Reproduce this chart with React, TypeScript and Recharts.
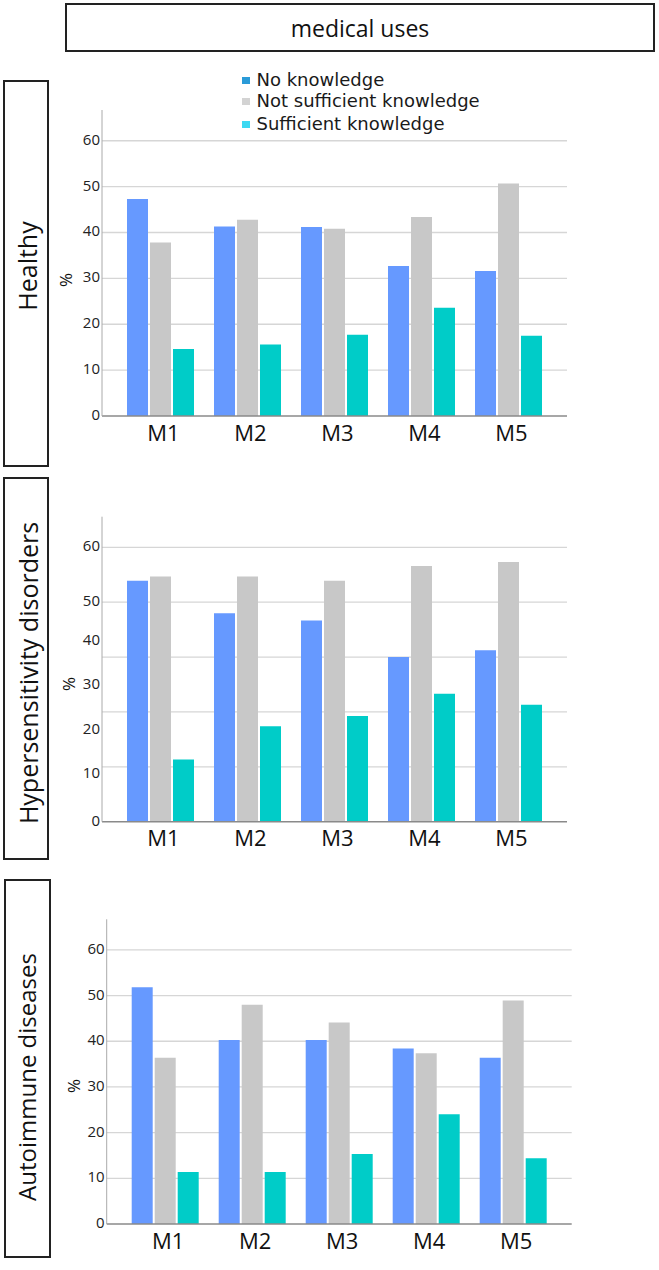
import React from 'react';
import { BarChart, Bar, XAxis, YAxis, CartesianGrid, Legend } from 'recharts';

const FONT = '"Open Sans", "Noto Sans", sans-serif';
const LEGEND_FONT = '"DejaVu Sans", sans-serif';

// ---------- data ----------
const categories = ['M1', 'M2', 'M3', 'M4', 'M5'];
const seriesNames = ['No knowledge', 'Not sufficient knowledge', 'Sufficient knowledge'];
const barColors = ['#6699FF', '#C8C8C8', '#00CCC8'];
const legendColors = ['#2A9BD8', '#D3D3D3', '#3DD9F2'];

const healthyNo = [47.3, 41.3, 41.2, 32.7, 31.6];
const healthyNotSuff = [37.8, 42.8, 40.8, 43.4, 50.7];
const healthySuff = [14.6, 15.6, 17.7, 23.6, 17.5];

const hyperNo = [52.7, 45.6, 44.0, 36.0, 37.5];
const hyperNotSuff = [53.6, 53.6, 52.7, 55.9, 56.8];
const hyperSuff = [13.6, 20.9, 23.1, 28.0, 25.6];

const autoNo = [51.8, 40.3, 40.3, 38.4, 36.4];
const autoNotSuff = [36.4, 48.0, 44.1, 37.4, 48.9];
const autoSuff = [11.4, 11.4, 15.3, 24.0, 14.4];

const yMax = 66.7;
const tickLabels = ['0', '10', '20', '30', '40', '50', '60'];
const regularTickValues = [0, 10, 20, 30, 40, 50, 60];
const regularGridValues = [10, 20, 30, 40, 50, 60];
const hyperTickValues = [0, 10.5, 20, 30, 39.5, 48, 60];
const hyperGridValues = [12, 24, 36, 48, 60];

const build = (no: number[], ns: number[], s: number[]) =>
  categories.map((c, i) => ({ name: c, no: no[i], notSuff: ns[i], suff: s[i] }));

const healthyData = build(healthyNo, healthyNotSuff, healthySuff);
const hyperData = build(hyperNo, hyperNotSuff, hyperSuff);
const autoData = build(autoNo, autoNotSuff, autoSuff);

// ---------- helpers ----------
const makeYTick = (values: number[]) => (props: any) => {
  const { x, y, payload } = props;
  const idx = values.indexOf(payload.value);
  const text = idx >= 0 ? tickLabels[idx] : String(payload.value);
  return (
    <text x={x} y={y - 2} textAnchor="end" dominantBaseline="central" fontSize={15} fill="#222" fontFamily={FONT}>
      {text}
    </text>
  );
};

const LegendBox = () => {
  const rowTops = [0, 21, 44];
  return (
    <div style={{ position: 'relative', width: 260, height: 66, fontFamily: LEGEND_FONT }}>
      {seriesNames.map((n, i) => (
        <div
          key={n}
          style={{ position: 'absolute', left: 0, top: rowTops[i], width: 250, height: 20, overflow: 'visible' }}
        >
          <div style={{ position: 'absolute', left: 0, top: 7, width: 8, height: 7, background: legendColors[i] }} />
          <div
            style={{
              position: 'absolute',
              left: 15,
              top: 0,
              height: 20,
              fontSize: 18,
              lineHeight: '20px',
              color: '#1a1a1a',
              whiteSpace: 'nowrap',
            }}
          >
            {n}
          </div>
        </div>
      ))}
    </div>
  );
};

const VLabel = ({ cx, cy, text, size }: { cx: number; cy: number; text: string; size: number }) => (
  <div
    style={{
      position: 'absolute',
      left: cx,
      top: cy,
      transform: 'translate(-50%,-50%) rotate(-90deg)',
      whiteSpace: 'nowrap',
      fontSize: size,
      fontFamily: FONT,
      color: '#111',
      lineHeight: 1,
    }}
  >
    {text}
  </div>
);

const Box = ({ left, top, width, height }: { left: number; top: number; width: number; height: number }) => (
  <div style={{ position: 'absolute', left, top, width, height, border: '2px solid #222', boxSizing: 'border-box' }} />
);

type PanelProps = {
  top: number;
  height: number;
  margin: { top: number; right: number; bottom: number; left: number };
  data: any[];
  tickValues: number[];
  gridValues: number[];
  legend?: boolean;
};

const Panel = ({ top, height, margin, data, tickValues, gridValues, legend }: PanelProps) => (
  <div style={{ position: 'absolute', left: 0, top }}>
    <BarChart width={659} height={height} data={data} margin={margin} barSize={21} barGap={2}>
      <CartesianGrid vertical={false} horizontalValues={gridValues} stroke="#D6D6D6" strokeWidth={1.3} />
      <XAxis
        dataKey="name"
        height={30}
        padding={{ left: 15, right: 15 }}
        axisLine={{ stroke: '#8A8A8A', strokeWidth: 1.5 }}
        tickLine={false}
        tickSize={0}
        tickMargin={9}
        tick={{ fontSize: 22, fill: '#111', fontFamily: FONT, dx: 3 }}
        interval={0}
      />
      <YAxis
        width={40}
        domain={[0, yMax]}
        ticks={tickValues}
        interval={0}
        axisLine={{ stroke: '#AAAAAA', strokeWidth: 1 }}
        tickLine={false}
        tickSize={0}
        tickMargin={2}
        tick={makeYTick(tickValues)}
      />
      {legend && (
        <Legend
          layout="vertical"
          align="center"
          verticalAlign="middle"
          wrapperStyle={{ position: 'absolute', top: 69.6, left: 241.5, width: 260, height: 66 }}
          content={() => <LegendBox />}
        />
      )}
      <Bar dataKey="no" name={seriesNames[0]} fill={barColors[0]} isAnimationActive={false} />
      <Bar dataKey="notSuff" name={seriesNames[1]} fill={barColors[1]} isAnimationActive={false} />
      <Bar dataKey="suff" name={seriesNames[2]} fill={barColors[2]} isAnimationActive={false} />
    </BarChart>
  </div>
);

export default function App() {
  return (
    <div style={{ position: 'absolute', left: 0, top: 0, width: 659, height: 1270, background: '#fff', overflow: 'hidden' }}>
      {/* title */}
      <Box left={65} top={3} width={590} height={49} />
      <div
        style={{
          position: 'absolute',
          left: 360,
          top: 28,
          transform: 'translate(-50%,-50%)',
          fontSize: 23,
          fontFamily: FONT,
          color: '#111',
          whiteSpace: 'nowrap',
        }}
      >
        medical uses
      </div>

      <Panel
        top={0}
        height={460}
        margin={{ top: 110, right: 92, bottom: 14, left: 62 }}
        data={healthyData}
        tickValues={regularTickValues}
        gridValues={regularGridValues}
        legend
      />
      <Panel
        top={470}
        height={400}
        margin={{ top: 46.7, right: 92, bottom: 18.3, left: 62 }}
        data={hyperData}
        tickValues={hyperTickValues}
        gridValues={hyperGridValues}
      />
      <Panel
        top={870}
        height={400}
        margin={{ top: 49.3, right: 87.3, bottom: 16, left: 66.7 }}
        data={autoData}
        tickValues={regularTickValues}
        gridValues={regularGridValues}
      />

      {/* side boxes */}
      <Box left={3} top={80} width={46} height={387} />
      <VLabel cx={27} cy={266} text="Healthy" size={25} />
      <Box left={3} top={477} width={46} height={383} />
      <VLabel cx={28} cy={673} text="Hypersensitivity disorders" size={25} />
      <Box left={4} top={879} width={47} height={379} />
      <VLabel cx={27} cy={1077} text="Autoimmune diseases" size={24} />

      {/* y-axis unit labels */}
      <VLabel cx={64.5} cy={280} text="%" size={17} />
      <VLabel cx={67.5} cy={684} text="%" size={17} />
      <VLabel cx={72.5} cy={1086} text="%" size={17} />
    </div>
  );
}
